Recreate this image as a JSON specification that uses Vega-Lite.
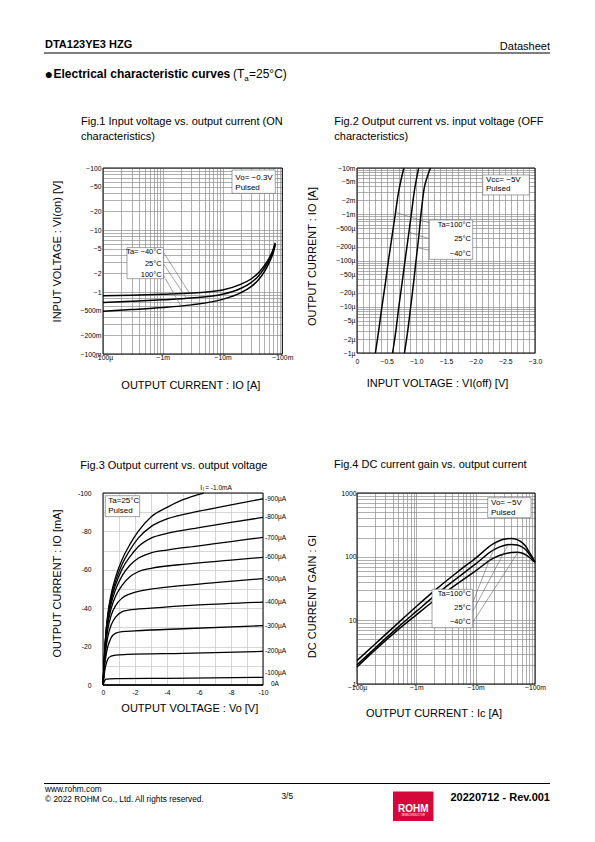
{
"$schema": "https://vega.github.io/schema/vega-lite/v6.json",
"background": "white",
"padding": 0,
"autosize": {"type": "pad"},
"columns": 3,
"spacing": 0,
"bounds": "flush",
"align": "each",
"datasets": {
"f1": [
{"ta":"-40","io":0.0001,"vi":0.87},{"ta":"-40","io":0.0003,"vi":0.89},{"ta":"-40","io":0.001,"vi":0.92},{"ta":"-40","io":0.003,"vi":0.96},{"ta":"-40","io":0.01,"vi":1.08},{"ta":"-40","io":0.02,"vi":1.33},{"ta":"-40","io":0.03,"vi":1.62},{"ta":"-40","io":0.04,"vi":2.05},{"ta":"-40","io":0.05,"vi":2.65},{"ta":"-40","io":0.06,"vi":3.5},{"ta":"-40","io":0.07,"vi":4.8},{"ta":"-40","io":0.076,"vi":6.2},
{"ta":"25","io":0.0001,"vi":0.68},{"ta":"25","io":0.0003,"vi":0.71},{"ta":"25","io":0.001,"vi":0.75},{"ta":"25","io":0.003,"vi":0.8},{"ta":"25","io":0.01,"vi":0.92},{"ta":"25","io":0.02,"vi":1.14},{"ta":"25","io":0.03,"vi":1.42},{"ta":"25","io":0.04,"vi":1.82},{"ta":"25","io":0.05,"vi":2.4},{"ta":"25","io":0.06,"vi":3.25},{"ta":"25","io":0.07,"vi":4.5},{"ta":"25","io":0.076,"vi":6.0},
{"ta":"100","io":0.0001,"vi":0.49},{"ta":"100","io":0.0003,"vi":0.52},{"ta":"100","io":0.001,"vi":0.56},{"ta":"100","io":0.003,"vi":0.62},{"ta":"100","io":0.01,"vi":0.76},{"ta":"100","io":0.02,"vi":0.97},{"ta":"100","io":0.03,"vi":1.22},{"ta":"100","io":0.04,"vi":1.58},{"ta":"100","io":0.05,"vi":2.12},{"ta":"100","io":0.06,"vi":2.95},{"ta":"100","io":0.07,"vi":4.2},{"ta":"100","io":0.076,"vi":5.7}
],
"f1box": [{"io":0.0144,"io2":0.0763,"vi":92.8,"vi2":39},{"io":0.000252,"io2":0.00103,"vi":5.2,"vi2":1.64}],
"f1lead": [{"io":0.00103,"vi":4.37,"io2":0.0028,"vi2":0.955},{"io":0.00103,"vi":2.83,"io2":0.0025,"vi2":0.79},{"io":0.00103,"vi":1.86,"io2":0.002,"vi2":0.6}],
"f1tl": [{"t":"Vo= −0.3V","io":0.01637,"vi":68.9},{"t":"Pulsed","io":0.01637,"vi":47.6}],
"f1tr": [{"t":"Ta= −40°C","io":0.00096,"vi":4.37},{"t":"25°C","io":0.00096,"vi":2.83},{"t":"100°C","io":0.00096,"vi":1.86}],
"f2": [
{"ta":"100","vin":0.31,"io":1e-6},{"ta":"100","vin":0.365,"io":3e-6},{"ta":"100","vin":0.42,"io":1e-5},{"ta":"100","vin":0.475,"io":3e-5},{"ta":"100","vin":0.53,"io":1e-4},{"ta":"100","vin":0.585,"io":3e-4},{"ta":"100","vin":0.645,"io":1e-3},{"ta":"100","vin":0.69,"io":2.5e-3},{"ta":"100","vin":0.735,"io":5e-3},{"ta":"100","vin":0.79,"io":1e-2},
{"ta":"25","vin":0.6,"io":1e-6},{"ta":"25","vin":0.655,"io":3e-6},{"ta":"25","vin":0.705,"io":1e-5},{"ta":"25","vin":0.76,"io":3.3e-5},{"ta":"25","vin":0.81,"io":1e-4},{"ta":"25","vin":0.865,"io":3.3e-4},{"ta":"25","vin":0.92,"io":1.1e-3},{"ta":"25","vin":0.96,"io":2.8e-3},{"ta":"25","vin":1.0,"io":5.6e-3},{"ta":"25","vin":1.04,"io":1e-2},
{"ta":"-40","vin":0.8,"io":1e-6},{"ta":"-40","vin":0.855,"io":3e-6},{"ta":"-40","vin":0.905,"io":1e-5},{"ta":"-40","vin":0.95,"io":3e-5},{"ta":"-40","vin":0.995,"io":1e-4},{"ta":"-40","vin":1.04,"io":3.2e-4},{"ta":"-40","vin":1.085,"io":1.2e-3},{"ta":"-40","vin":1.13,"io":3.5e-3},{"ta":"-40","vin":1.18,"io":6.2e-3},{"ta":"-40","vin":1.24,"io":1e-2}
],
"f2box": [{"vin":2.119,"vin2":2.904,"io":7.06e-3,"io2":2.61e-3},{"vin":1.219,"vin2":1.95,"io":7.52e-4,"io2":1.06e-4}],
"f2lead": [{"vin":0.65,"io":1.1e-3,"vin2":1.219,"io2":6.5e-4},{"vin":0.875,"io":4.1e-4,"vin2":1.219,"io2":2.95e-4},{"vin":1.02,"io":1.9e-4,"vin2":1.219,"io2":1.66e-4}],
"f2tl": [{"t":"Vcc= −5V","vin":2.174,"io":5.5e-3},{"t":"Pulsed","vin":2.174,"io":3.51e-3}],
"f2tr": [{"t":"Ta=100°C","vin":1.92,"io":5.86e-4},{"t":"25°C","vin":1.92,"io":2.87e-4},{"t":"−40°C","vin":1.92,"io":1.36e-4}],
"f3": [
{"ib":"0A","vo":0,"io":0},{"ib":"0A","vo":10,"io":0},
{"ib":"100","vo":0,"io":0},{"ib":"100","vo":0.05,"io":1.2},{"ib":"100","vo":0.1,"io":2.2},{"ib":"100","vo":0.2,"io":3.0},{"ib":"100","vo":0.4,"io":3.2},{"ib":"100","vo":1,"io":3.3},{"ib":"100","vo":4,"io":3.5},{"ib":"100","vo":10,"io":4.0},
{"ib":"200","vo":0,"io":0},{"ib":"200","vo":0.05,"io":3.5},{"ib":"200","vo":0.1,"io":7},{"ib":"200","vo":0.2,"io":11},{"ib":"200","vo":0.3,"io":13.5},{"ib":"200","vo":0.5,"io":15.0},{"ib":"200","vo":0.8,"io":15.6},{"ib":"200","vo":1.5,"io":15.9},{"ib":"200","vo":5,"io":16.5},{"ib":"200","vo":10,"io":17.5},
{"ib":"300","vo":0,"io":0},{"ib":"300","vo":0.05,"io":5},{"ib":"300","vo":0.1,"io":10},{"ib":"300","vo":0.2,"io":16},{"ib":"300","vo":0.3,"io":20},{"ib":"300","vo":0.5,"io":24.5},{"ib":"300","vo":0.8,"io":27},{"ib":"300","vo":1.2,"io":27.8},{"ib":"300","vo":2,"io":28.2},{"ib":"300","vo":5,"io":29.3},{"ib":"300","vo":10,"io":30.9},
{"ib":"400","vo":0,"io":0},{"ib":"400","vo":0.05,"io":6},{"ib":"400","vo":0.1,"io":12},{"ib":"400","vo":0.2,"io":20},{"ib":"400","vo":0.3,"io":25},{"ib":"400","vo":0.5,"io":31},{"ib":"400","vo":0.8,"io":35.5},{"ib":"400","vo":1.2,"io":38.2},{"ib":"400","vo":1.6,"io":39},{"ib":"400","vo":3,"io":40},{"ib":"400","vo":6,"io":41.7},{"ib":"400","vo":10,"io":43.2},
{"ib":"500","vo":0,"io":0},{"ib":"500","vo":0.05,"io":7},{"ib":"500","vo":0.1,"io":14},{"ib":"500","vo":0.2,"io":23},{"ib":"500","vo":0.3,"io":29},{"ib":"500","vo":0.5,"io":36},{"ib":"500","vo":0.8,"io":41.5},{"ib":"500","vo":1.2,"io":45.3},{"ib":"500","vo":1.7,"io":47.5},{"ib":"500","vo":2.5,"io":49.3},{"ib":"500","vo":4,"io":51},{"ib":"500","vo":7,"io":53.3},{"ib":"500","vo":10,"io":55.4},
{"ib":"600","vo":0,"io":0},{"ib":"600","vo":0.05,"io":7.5},{"ib":"600","vo":0.1,"io":15},{"ib":"600","vo":0.2,"io":25},{"ib":"600","vo":0.3,"io":31.5},{"ib":"600","vo":0.5,"io":39.5},{"ib":"600","vo":0.8,"io":46.5},{"ib":"600","vo":1.2,"io":52},{"ib":"600","vo":1.7,"io":56.5},{"ib":"600","vo":2.2,"io":59},{"ib":"600","vo":3,"io":60.8},{"ib":"600","vo":5,"io":62.8},{"ib":"600","vo":8,"io":65},{"ib":"600","vo":10,"io":66.5},
{"ib":"700","vo":0,"io":0},{"ib":"700","vo":0.05,"io":8},{"ib":"700","vo":0.1,"io":16},{"ib":"700","vo":0.2,"io":26.5},{"ib":"700","vo":0.3,"io":33.5},{"ib":"700","vo":0.5,"io":42},{"ib":"700","vo":0.8,"io":50},{"ib":"700","vo":1.2,"io":57},{"ib":"700","vo":1.7,"io":62.5},{"ib":"700","vo":2.2,"io":66},{"ib":"700","vo":3,"io":68.8},{"ib":"700","vo":4,"io":70.3},{"ib":"700","vo":6,"io":72.5},{"ib":"700","vo":8,"io":74.7},{"ib":"700","vo":10,"io":76.9},
{"ib":"800","vo":0,"io":0},{"ib":"800","vo":0.05,"io":8.2},{"ib":"800","vo":0.1,"io":16.5},{"ib":"800","vo":0.2,"io":27.5},{"ib":"800","vo":0.3,"io":35},{"ib":"800","vo":0.5,"io":44},{"ib":"800","vo":0.8,"io":52.5},{"ib":"800","vo":1.2,"io":60.5},{"ib":"800","vo":1.7,"io":67},{"ib":"800","vo":2.2,"io":72},{"ib":"800","vo":3,"io":76.5},{"ib":"800","vo":4,"io":79},{"ib":"800","vo":6,"io":82},{"ib":"800","vo":8,"io":84.7},{"ib":"800","vo":10,"io":87.3},
{"ib":"900","vo":0,"io":0},{"ib":"900","vo":0.05,"io":8.5},{"ib":"900","vo":0.1,"io":17},{"ib":"900","vo":0.2,"io":28.5},{"ib":"900","vo":0.3,"io":36},{"ib":"900","vo":0.5,"io":45.5},{"ib":"900","vo":0.8,"io":54.5},{"ib":"900","vo":1.2,"io":63},{"ib":"900","vo":1.7,"io":70.5},{"ib":"900","vo":2.2,"io":76.5},{"ib":"900","vo":3,"io":82.5},{"ib":"900","vo":4,"io":86.5},{"ib":"900","vo":6,"io":90.5},{"ib":"900","vo":8,"io":93.8},{"ib":"900","vo":10,"io":97},
{"ib":"1000","vo":0,"io":0},{"ib":"1000","vo":0.05,"io":8.7},{"ib":"1000","vo":0.1,"io":17.5},{"ib":"1000","vo":0.2,"io":29},{"ib":"1000","vo":0.3,"io":37},{"ib":"1000","vo":0.5,"io":47},{"ib":"1000","vo":0.8,"io":56.5},{"ib":"1000","vo":1.2,"io":65.5},{"ib":"1000","vo":1.7,"io":73.5},{"ib":"1000","vo":2.2,"io":80},{"ib":"1000","vo":3,"io":87.5},{"ib":"1000","vo":4,"io":92.5},{"ib":"1000","vo":5,"io":96.5},{"ib":"1000","vo":6.3,"io":100}
],
"f3lab": [{"t":"-900µA","io":97},{"t":"-800µA","io":87.3},{"t":"-700µA","io":76.6},{"t":"-600µA","io":66.5},{"t":"-500µA","io":55.4},{"t":"-400µA","io":43.2},{"t":"-300µA","io":30.9},{"t":"-200µA","io":17.5},{"t":"-100µA","io":6.3}],
"f3box": [{"vo":0.144,"vo2":2.29,"io":98.6,"io2":87.7}],
"f3tl": [{"t":"Ta=25°C","vo":0.33,"io":95.8},{"t":"Pulsed","vo":0.33,"io":90.6}],
"f4": [
{"ta":"100","ic":0.0001,"g":2.33},{"ta":"100","ic":0.0002,"g":4.2},{"ta":"100","ic":0.0005,"g":9.2},{"ta":"100","ic":0.001,"g":16.5},{"ta":"100","ic":0.002,"g":29},{"ta":"100","ic":0.005,"g":58},{"ta":"100","ic":0.01,"g":95},{"ta":"100","ic":0.02,"g":160},{"ta":"100","ic":0.03,"g":188},{"ta":"100","ic":0.04,"g":193},{"ta":"100","ic":0.05,"g":185},{"ta":"100","ic":0.06,"g":168},{"ta":"100","ic":0.07,"g":145},{"ta":"100","ic":0.08,"g":118},{"ta":"100","ic":0.09,"g":98},{"ta":"100","ic":0.1,"g":82},
{"ta":"25","ic":0.0001,"g":2.0},{"ta":"25","ic":0.0002,"g":3.65},{"ta":"25","ic":0.0005,"g":7.9},{"ta":"25","ic":0.001,"g":13.8},{"ta":"25","ic":0.002,"g":24},{"ta":"25","ic":0.005,"g":47},{"ta":"25","ic":0.01,"g":77},{"ta":"25","ic":0.02,"g":128},{"ta":"25","ic":0.03,"g":150},{"ta":"25","ic":0.04,"g":155},{"ta":"25","ic":0.05,"g":152},{"ta":"25","ic":0.06,"g":143},{"ta":"25","ic":0.07,"g":128},{"ta":"25","ic":0.08,"g":110},{"ta":"25","ic":0.09,"g":95},{"ta":"25","ic":0.1,"g":82},
{"ta":"-40","ic":0.0001,"g":1.85},{"ta":"-40","ic":0.0002,"g":3.4},{"ta":"-40","ic":0.0005,"g":7.2},{"ta":"-40","ic":0.001,"g":12.2},{"ta":"-40","ic":0.002,"g":20.5},{"ta":"-40","ic":0.005,"g":38},{"ta":"-40","ic":0.01,"g":60},{"ta":"-40","ic":0.02,"g":95},{"ta":"-40","ic":0.03,"g":110},{"ta":"-40","ic":0.04,"g":116},{"ta":"-40","ic":0.05,"g":117},{"ta":"-40","ic":0.06,"g":114},{"ta":"-40","ic":0.07,"g":107},{"ta":"-40","ic":0.08,"g":98},{"ta":"-40","ic":0.09,"g":89},{"ta":"-40","ic":0.1,"g":82}
],
"f4box": [{"ic":0.01596,"ic2":0.0857,"g":843,"g2":409},{"ic":0.00184,"ic2":0.00891,"g":30.7,"g2":7.66}],
"f4lead": [{"ic":0.009,"g":19.4,"ic2":0.0223,"g2":168},{"ic":0.009,"g":14,"ic2":0.035,"g2":152},{"ic":0.009,"g":9.4,"ic2":0.0516,"g2":117}],
"f4tl": [{"t":"Vo= −5V","ic":0.01815,"g":705},{"t":"Pulsed","ic":0.01815,"g":491}],
"f4tr": [{"t":"Ta=100°C","ic":0.00835,"g":25.9},{"t":"25°C","ic":0.00835,"g":15.6},{"t":"−40°C","ic":0.00835,"g":9.42}]
},
"concat": [
{
"width": 102.7, "height": 168,
"layer": [
{"data": {"values": [{"t": "DTA123YE3 HZG"}]}, "mark": {"type": "text", "x": 45, "y": 48, "align": "left", "baseline": "alphabetic", "fontSize": 11, "fontWeight": "bold", "color": "black"}, "encoding": {"text": {"field": "t"}}},
{"data": {"values": [{"t": "Datasheet"}]}, "mark": {"type": "text", "x": 550, "y": 49.5, "align": "right", "baseline": "alphabetic", "fontSize": 11, "color": "black"}, "encoding": {"text": {"field": "t"}}},
{"data": {"values": [{}]}, "mark": {"type": "rect", "x": 44, "x2": 550, "y": 52.6, "y2": 53.6, "color": "black"}, "encoding": {}},
{"data": {"values": [{"t": "●"}]}, "mark": {"type": "text", "x": 44.5, "y": 78.5, "align": "left", "baseline": "alphabetic", "fontSize": 14, "color": "black"}, "encoding": {"text": {"field": "t"}}},
{"data": {"values": [{"t": "Electrical characteristic curves"}]}, "mark": {"type": "text", "x": 53.5, "y": 78, "align": "left", "baseline": "alphabetic", "fontSize": 12, "fontWeight": "bold", "color": "black"}, "encoding": {"text": {"field": "t"}}},
{"data": {"values": [{"t": "(T"}]}, "mark": {"type": "text", "x": 233, "y": 78, "align": "left", "baseline": "alphabetic", "fontSize": 12, "color": "black"}, "encoding": {"text": {"field": "t"}}},
{"data": {"values": [{"t": "a"}]}, "mark": {"type": "text", "x": 244.3, "y": 80.5, "align": "left", "baseline": "alphabetic", "fontSize": 8, "color": "black"}, "encoding": {"text": {"field": "t"}}},
{"data": {"values": [{"t": " =25°C)"}]}, "mark": {"type": "text", "x": 249, "y": 78, "align": "left", "baseline": "alphabetic", "fontSize": 12, "color": "black"}, "encoding": {"text": {"field": "t"}}},
{"data": {"values": [{}]}, "mark": {"type": "rect", "x": 44, "x2": 550, "y": 783, "y2": 784, "color": "black"}, "encoding": {}},
{"data": {"values": [{"t": "www.rohm.com"}]}, "mark": {"type": "text", "x": 45, "y": 791.5, "align": "left", "baseline": "alphabetic", "fontSize": 8.3, "color": "black"}, "encoding": {"text": {"field": "t"}}},
{"data": {"values": [{"t": "© 2022 ROHM Co., Ltd. All rights reserved."}]}, "mark": {"type": "text", "x": 45, "y": 801.5, "align": "left", "baseline": "alphabetic", "fontSize": 8.3, "color": "black"}, "encoding": {"text": {"field": "t"}}},
{"data": {"values": [{"t": "3/5"}]}, "mark": {"type": "text", "x": 281.5, "y": 799, "align": "left", "baseline": "alphabetic", "fontSize": 8.3, "color": "black"}, "encoding": {"text": {"field": "t"}}},
{"data": {"values": [{"t": "20220712 - Rev.001"}]}, "mark": {"type": "text", "x": 550, "y": 800.5, "align": "right", "baseline": "alphabetic", "fontSize": 11, "fontWeight": "bold", "color": "black"}, "encoding": {"text": {"field": "t"}}},
{"data": {"values": [{}]}, "mark": {"type": "rect", "x": 393, "x2": 433.5, "y": 791.5, "y2": 821, "color": "#d6083b"}, "encoding": {}},
{"data": {"values": [{"t": "ROHM"}]}, "mark": {"type": "text", "x": 413.2, "y": 811.5, "align": "center", "baseline": "alphabetic", "fontSize": 10, "fontWeight": "bold", "color": "white"}, "encoding": {"text": {"field": "t"}}},
{"data": {"values": [{"t": "SEMICONDUCTOR"}]}, "mark": {"type": "text", "x": 413.2, "y": 816, "align": "center", "baseline": "alphabetic", "fontSize": 2.6, "color": "white"}, "encoding": {"text": {"field": "t"}}}
]
},
{"width": 253.3, "height": 1, "data": {"values": []}, "mark": "point", "encoding": {}},
{"width": 178, "height": 1, "data": {"values": []}, "mark": "point", "encoding": {}},
{"width": 1, "height": 325, "data": {"values": []}, "mark": "point", "encoding": {}},
{
"width": 179.3, "height": 186,
"title": {"text": ["Fig.1 Input voltage vs. output current (ON", "characteristics)"], "dx": -22, "offset": 23},
"layer": [
{"data": {"name": "f1"}, "mark": {"type": "line", "color": "black", "strokeWidth": 1.5, "interpolate": "monotone"},
 "encoding": {
  "x": {"field": "io", "type": "quantitative", "scale": {"type": "log", "domain": [0.0001, 0.1], "nice": false},
   "axis": {"title": "OUTPUT CURRENT : IO [A]", "values": [0.0001,0.0002,0.0003,0.0004,0.0005,0.0006,0.0007,0.0008,0.0009,0.001,0.002,0.003,0.004,0.005,0.006,0.007,0.008,0.009,0.01,0.02,0.03,0.04,0.05,0.06,0.07,0.08,0.09,0.1], "tickCount": 1000,
    "labelExpr": "round(datum.value/pow(10, floor(log(datum.value)/LN10+1e-9))) == 1 ? '−' + format(datum.value, '~s') : ''", "labelPadding": 0.5, "titleX": 87.3, "titleY": 31}},
  "y": {"field": "vi", "type": "quantitative", "scale": {"type": "log", "domain": [0.1, 100], "nice": false},
   "axis": {"title": "INPUT VOLTAGE : VI(on) [V]", "values": [0.1,0.2,0.3,0.4,0.5,0.6,0.7,0.8,0.9,1,2,3,4,5,6,7,8,9,10,20,30,40,50,60,70,80,90,100], "tickCount": 1000,
    "labelExpr": "indexof([1,2,5], round(datum.value/pow(10, floor(log(datum.value)/LN10+1e-9)))) >= 0 ? '−' + format(datum.value, '~s') : ''", "labelPadding": 2, "titleX": -46, "titleY": 83}},
  "detail": {"field": "ta"}}},
{"data": {"values": [{}]}, "mark": {"type": "rect", "filled": false, "color": "black", "strokeWidth": 1}, "encoding": {"x": {"datum": 0.0001}, "x2": {"datum": 0.1}, "y": {"datum": 0.1}, "y2": {"datum": 100}}},
{"data": {"name": "f1box"}, "mark": {"type": "rect", "fill": "white", "stroke": "#666", "strokeWidth": 0.6}, "encoding": {"x": {"field": "io", "type": "quantitative"}, "x2": {"field": "io2"}, "y": {"field": "vi", "type": "quantitative"}, "y2": {"field": "vi2"}}},
{"data": {"name": "f1lead"}, "mark": {"type": "rule", "color": "#666", "strokeWidth": 0.6}, "encoding": {"x": {"field": "io", "type": "quantitative"}, "x2": {"field": "io2"}, "y": {"field": "vi", "type": "quantitative"}, "y2": {"field": "vi2"}}},
{"data": {"name": "f1tl"}, "mark": {"type": "text", "align": "left", "baseline": "middle", "fontSize": 8, "color": "black"}, "encoding": {"x": {"field": "io", "type": "quantitative"}, "y": {"field": "vi", "type": "quantitative"}, "text": {"field": "t"}}},
{"data": {"name": "f1tr"}, "mark": {"type": "text", "align": "right", "baseline": "middle", "fontSize": 7.5, "color": "black"}, "encoding": {"x": {"field": "io", "type": "quantitative"}, "y": {"field": "vi", "type": "quantitative"}, "text": {"field": "t"}}}
]
},
{
"width": 178, "height": 185,
"title": {"text": ["Fig.2 Output current vs. input voltage (OFF", "characteristics)"], "dx": -22.7, "offset": 23},
"layer": [
{"data": {"name": "f2"}, "mark": {"type": "line", "color": "black", "strokeWidth": 1.5, "interpolate": "monotone"},
 "encoding": {
  "x": {"field": "vin", "type": "quantitative", "scale": {"domain": [0, 3], "nice": false},
   "axis": {"title": "INPUT VOLTAGE : VI(off) [V]", "values": [0,0.1,0.2,0.3,0.4,0.5,0.6,0.7,0.8,0.9,1.0,1.1,1.2,1.3,1.4,1.5,1.6,1.7,1.8,1.9,2.0,2.1,2.2,2.3,2.4,2.5,2.6,2.7,2.8,2.9,3.0], "tickCount": 1000,
    "labelExpr": "abs(datum.value*2 - round(datum.value*2)) < 0.001 ? (datum.value == 0 ? '0' : '−' + format(datum.value, '.1f')) : ''", "labelPadding": 5, "titleX": 80, "titleY": 30.7}},
  "y": {"field": "io", "type": "quantitative", "scale": {"type": "log", "domain": [1e-6, 1e-2], "nice": false},
   "axis": {"title": "OUTPUT CURRENT : IO [A]", "values": [1e-6,2e-6,3e-6,4e-6,5e-6,6e-6,7e-6,8e-6,9e-6,1e-5,2e-5,3e-5,4e-5,5e-5,6e-5,7e-5,8e-5,9e-5,1e-4,2e-4,3e-4,4e-4,5e-4,6e-4,7e-4,8e-4,9e-4,1e-3,2e-3,3e-3,4e-3,5e-3,6e-3,7e-3,8e-3,9e-3,1e-2], "tickCount": 1000,
    "labelExpr": "indexof([1,2,5], round(datum.value/pow(10, floor(log(datum.value)/LN10+1e-9)))) >= 0 ? '−' + format(datum.value, '~s') : ''", "labelPadding": 2, "titleX": -44.3, "titleY": 88}},
  "detail": {"field": "ta"}}},
{"data": {"values": [{}]}, "mark": {"type": "rect", "filled": false, "color": "black", "strokeWidth": 1}, "encoding": {"x": {"datum": 0}, "x2": {"datum": 3}, "y": {"datum": 1e-6}, "y2": {"datum": 1e-2}}},
{"data": {"name": "f2box"}, "mark": {"type": "rect", "fill": "white", "stroke": "#666", "strokeWidth": 0.6}, "encoding": {"x": {"field": "vin", "type": "quantitative"}, "x2": {"field": "vin2"}, "y": {"field": "io", "type": "quantitative"}, "y2": {"field": "io2"}}},
{"data": {"name": "f2lead"}, "mark": {"type": "rule", "color": "#666", "strokeWidth": 0.6}, "encoding": {"x": {"field": "vin", "type": "quantitative"}, "x2": {"field": "vin2"}, "y": {"field": "io", "type": "quantitative"}, "y2": {"field": "io2"}}},
{"data": {"name": "f2tl"}, "mark": {"type": "text", "align": "left", "baseline": "middle", "fontSize": 8, "color": "black"}, "encoding": {"x": {"field": "vin", "type": "quantitative"}, "y": {"field": "io", "type": "quantitative"}, "text": {"field": "t"}}},
{"data": {"name": "f2tr"}, "mark": {"type": "text", "align": "right", "baseline": "middle", "fontSize": 7.5, "color": "black"}, "encoding": {"x": {"field": "vin", "type": "quantitative"}, "y": {"field": "io", "type": "quantitative"}, "text": {"field": "t"}}}
]
},
{"width": 1, "height": 1, "data": {"values": []}, "mark": "point", "encoding": {}},
{
"width": 160, "height": 192,
"title": {"text": "Fig.3 Output current vs. output voltage", "dx": -22.7, "offset": 13},
"layer": [
{"data": {"name": "f3"}, "mark": {"type": "line", "color": "black", "strokeWidth": 1.3, "interpolate": "monotone"},
 "encoding": {
  "x": {"field": "vo", "type": "quantitative", "scale": {"domain": [0, 10], "nice": false},
   "axis": {"title": "OUTPUT VOLTAGE : Vo [V]", "values": [0,1,2,3,4,5,6,7,8,9,10], "tickCount": 1000, "gridColor": "#c4c4c4",
    "labelExpr": "datum.value % 2 == 0 ? (datum.value == 0 ? '0' : '-' + datum.value) : ''", "labelPadding": 4.5, "titleX": 86.3, "titleY": 23.3}},
  "y": {"field": "io", "type": "quantitative", "scale": {"domain": [0, 100], "nice": false},
   "axis": {"title": "OUTPUT CURRENT : IO [mA]", "values": [0,10,20,30,40,50,60,70,80,90,100], "tickCount": 1000, "gridColor": "#c4c4c4",
    "labelExpr": "datum.value % 20 == 0 ? (datum.value == 0 ? '0' : '-' + datum.value) : ''", "labelPadding": 12, "titleX": -46, "titleY": 90}},
  "detail": {"field": "ib"}}},
{"data": {"values": [{}]}, "mark": {"type": "rect", "filled": false, "color": "black", "strokeWidth": 1}, "encoding": {"x": {"datum": 0}, "x2": {"datum": 10}, "y": {"datum": 0}, "y2": {"datum": 100}}},
{"data": {"name": "f3box"}, "mark": {"type": "rect", "fill": "white", "stroke": "#666", "strokeWidth": 0.6}, "encoding": {"x": {"field": "vo", "type": "quantitative"}, "x2": {"field": "vo2"}, "y": {"field": "io", "type": "quantitative"}, "y2": {"field": "io2"}}},
{"data": {"name": "f3tl"}, "mark": {"type": "text", "align": "left", "baseline": "middle", "fontSize": 8, "color": "black"}, "encoding": {"x": {"field": "vo", "type": "quantitative"}, "y": {"field": "io", "type": "quantitative"}, "text": {"field": "t"}}},
{"data": {"name": "f3lab"}, "mark": {"type": "text", "align": "left", "baseline": "middle", "fontSize": 6.5, "dx": 2, "color": "black"}, "encoding": {"x": {"datum": 10}, "y": {"field": "io", "type": "quantitative"}, "text": {"field": "t"}}},
{"data": {"values": [{"t": "0A"}]}, "mark": {"type": "text", "align": "left", "baseline": "middle", "fontSize": 6.5, "dx": 8, "color": "black"}, "encoding": {"x": {"datum": 10}, "y": {"datum": 0.5}, "text": {"field": "t"}}},
{"data": {"values": [{"t": "I"}]}, "mark": {"type": "text", "align": "left", "baseline": "middle", "fontSize": 7, "color": "black"}, "encoding": {"x": {"datum": 6.08}, "y": {"datum": 102.4}, "text": {"field": "t"}}},
{"data": {"values": [{"t": "I"}]}, "mark": {"type": "text", "align": "left", "baseline": "middle", "fontSize": 4.5, "dy": 1.5, "color": "black"}, "encoding": {"x": {"datum": 6.24}, "y": {"datum": 102.4}, "text": {"field": "t"}}},
{"data": {"values": [{"t": "=  -1.0mA"}]}, "mark": {"type": "text", "align": "left", "baseline": "middle", "fontSize": 6.5, "color": "black"}, "encoding": {"x": {"datum": 6.39}, "y": {"datum": 102.4}, "text": {"field": "t"}}}
]
},
{
"width": 178, "height": 191,
"title": {"text": "Fig.4 DC current gain vs. output current", "dx": -23, "offset": 20},
"layer": [
{"data": {"name": "f4"}, "mark": {"type": "line", "color": "black", "strokeWidth": 1.5, "interpolate": "monotone"},
 "encoding": {
  "x": {"field": "ic", "type": "quantitative", "scale": {"type": "log", "domain": [0.0001, 0.1], "nice": false},
   "axis": {"title": "OUTPUT CURRENT : Ic [A]", "values": [0.0001,0.0002,0.0003,0.0004,0.0005,0.0006,0.0007,0.0008,0.0009,0.001,0.002,0.003,0.004,0.005,0.006,0.007,0.008,0.009,0.01,0.02,0.03,0.04,0.05,0.06,0.07,0.08,0.09,0.1], "tickCount": 1000,
    "labelExpr": "round(datum.value/pow(10, floor(log(datum.value)/LN10+1e-9))) == 1 ? '−' + format(datum.value, '~s') : ''", "labelPadding": 0.5, "titleX": 76.5, "titleY": 29.3}},
  "y": {"field": "g", "type": "quantitative", "scale": {"type": "log", "domain": [1, 1000], "nice": false},
   "axis": {"title": "DC CURRENT GAIN : GI", "values": [1,2,3,4,5,6,7,8,9,10,20,30,40,50,60,70,80,90,100,200,300,400,500,600,700,800,900,1000], "tickCount": 1000,
    "labelExpr": "round(datum.value/pow(10, floor(log(datum.value)/LN10+1e-9))) == 1 ? format(datum.value, 'd') : ''", "labelPadding": 1, "titleX": -44.3, "titleY": 103}},
  "detail": {"field": "ta"}}},
{"data": {"values": [{}]}, "mark": {"type": "rect", "filled": false, "color": "black", "strokeWidth": 1}, "encoding": {"x": {"datum": 0.0001}, "x2": {"datum": 0.1}, "y": {"datum": 1}, "y2": {"datum": 1000}}},
{"data": {"name": "f4box"}, "mark": {"type": "rect", "fill": "white", "stroke": "#666", "strokeWidth": 0.6}, "encoding": {"x": {"field": "ic", "type": "quantitative"}, "x2": {"field": "ic2"}, "y": {"field": "g", "type": "quantitative"}, "y2": {"field": "g2"}}},
{"data": {"name": "f4lead"}, "mark": {"type": "rule", "color": "#666", "strokeWidth": 0.6}, "encoding": {"x": {"field": "ic", "type": "quantitative"}, "x2": {"field": "ic2"}, "y": {"field": "g", "type": "quantitative"}, "y2": {"field": "g2"}}},
{"data": {"name": "f4tl"}, "mark": {"type": "text", "align": "left", "baseline": "middle", "fontSize": 8, "color": "black"}, "encoding": {"x": {"field": "ic", "type": "quantitative"}, "y": {"field": "g", "type": "quantitative"}, "text": {"field": "t"}}},
{"data": {"name": "f4tr"}, "mark": {"type": "text", "align": "right", "baseline": "middle", "fontSize": 7.5, "color": "black"}, "encoding": {"x": {"field": "ic", "type": "quantitative"}, "y": {"field": "g", "type": "quantitative"}, "text": {"field": "t"}}}
]
}
],
"config": {
"view": {"stroke": null},
"font": "Liberation Sans",
"title": {"font": "Liberation Sans", "fontSize": 11, "fontWeight": "normal", "anchor": "start", "frame": "group", "color": "black", "lineHeight": 15, "baseline": "bottom"},
"axis": {"labelFont": "Liberation Sans", "titleFont": "Liberation Sans", "labelFontSize": 6.8, "labelColor": "black", "titleColor": "black", "titleFontSize": 11, "titleFontWeight": "normal", "ticks": false, "domain": false, "grid": true, "gridColor": "#8c8c8c", "gridWidth": 0.7, "labelOverlap": false, "labelFlush": false, "labelBound": false, "titleBaseline": "middle"},
"text": {"font": "Liberation Sans"}
}
}
